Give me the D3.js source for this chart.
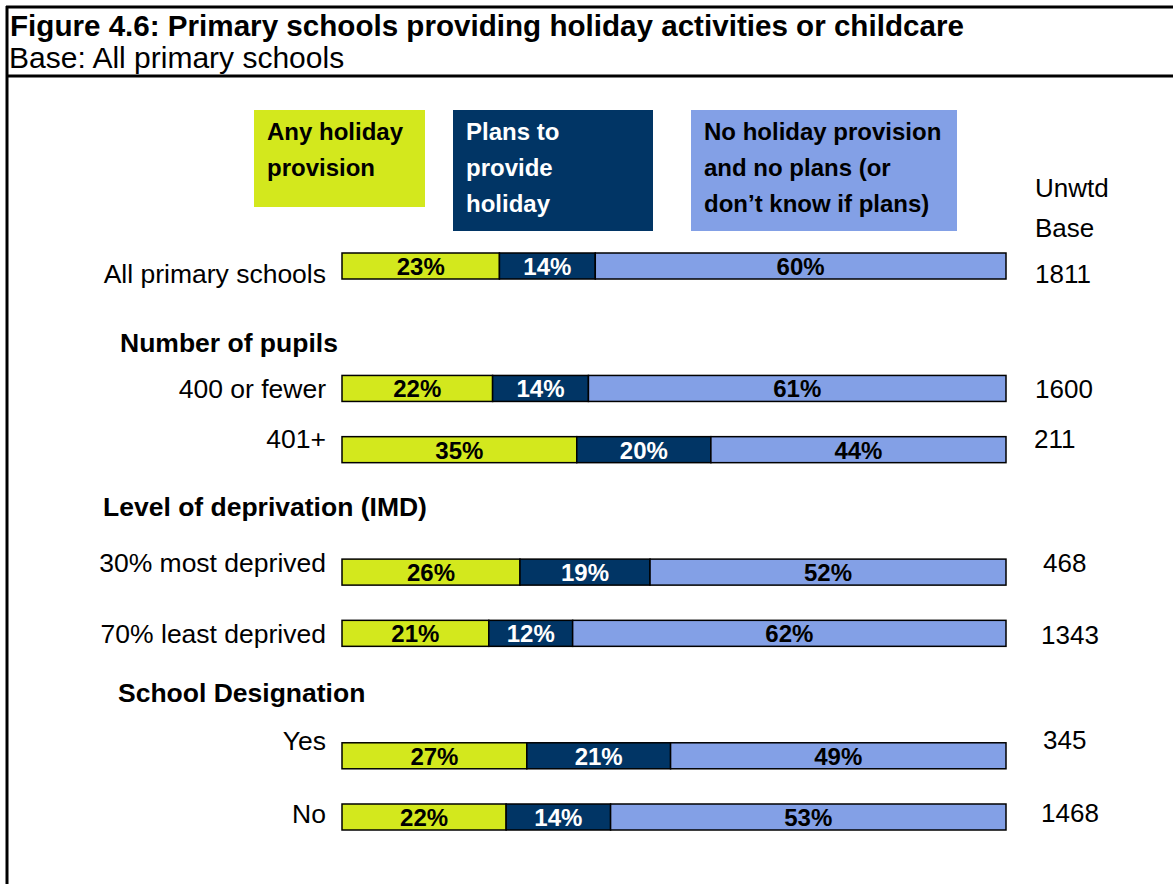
<!DOCTYPE html>
<html>
<head>
  <meta charset="UTF-8">
  <title>Figure 4.6</title>
  <style>
    body { margin: 0; background: #fff; }
    text { font-family: "Liberation Sans", Arial, sans-serif; }
  </style>
</head>
<body>
<script src="https://d3js.org/d3.v7.min.js"></script>
<script>
  // data
  const categories = ["All primary schools", "400 or fewer", "401+", "30% most deprived",
                      "70% least deprived", "Yes", "No"];
  const anyProvision   = [23, 22, 35, 26, 21, 27, 22];
  const plansToProvide = [14, 14, 20, 19, 12, 21, 14];
  const noProvision    = [60, 61, 44, 52, 62, 49, 53];
  const unwtdBase      = [1811, 1600, 211, 468, 1343, 345, 1468];
  const headings = ["Number of pupils", "Level of deprivation (IMD)", "School Designation"];
  const seriesKeys = ["any", "plans", "none"];
  const legendLines = [
    ["Any holiday", "provision"],
    ["Plans to", "provide", "holiday"],
    ["No holiday provision", "and no plans (or", "don\u2019t know if plans)"]
  ];

  const width = 1173, height = 884;
  const colors = { any: "#d3e81d", plans: "#013565", none: "#83a0e6" };
  const textColors = { any: "#000", plans: "#fff", none: "#000" };

  // layout: rows and headings sit on evenly spaced slots
  const rowSlot = [0, 2, 3, 5, 6, 8, 9];
  const headSlot = [1, 4, 7];
  // small nudges so labels sit where the original text boxes were
  const labelDy = [30, 23, 11, 13, 23, 7, 19];
  const baseDy  = [30, 23, 11, 13, 24, 6, 18];
  const baseDx  = [0, 0, -1, 8, 6, 8, 6];
  const headDy  = [38, 18, 20];
  const headX   = [120, 103, 118];

  const svg = d3.select("body").append("svg")
    .attr("width", width).attr("height", height);

  svg.append("rect").attr("width", width).attr("height", height).attr("fill", "#fff");

  // frame
  const frame = svg.append("g").attr("stroke", "#000").attr("stroke-width", 3);
  frame.append("line").attr("x1", 7).attr("y1", 6).attr("x2", 7).attr("y2", height);
  frame.append("line").attr("x1", 6).attr("y1", 7).attr("x2", width).attr("y2", 7);
  frame.append("line").attr("x1", 6).attr("y1", 76).attr("x2", width).attr("y2", 76);

  svg.append("text").attr("x", 10).attr("y", 36)
    .attr("font-size", "29.6px").attr("font-weight", "bold")
    .text("Figure 4.6: Primary schools providing holiday activities or childcare");
  svg.append("text").attr("x", 9).attr("y", 68)
    .attr("font-size", "30px")
    .text("Base: All primary schools");

  // legend boxes
  const legendBoxes = [
    { x: 254, w: 171, h: 97 },
    { x: 453, w: 200, h: 121 },
    { x: 691, w: 266, h: 121 }
  ];
  const legend = svg.append("g").selectAll("g")
    .data(seriesKeys).join("g");
  legend.append("rect")
    .attr("x", (d, i) => legendBoxes[i].x).attr("y", 110)
    .attr("width", (d, i) => legendBoxes[i].w).attr("height", (d, i) => legendBoxes[i].h)
    .attr("fill", d => colors[d]);
  legend.each(function (d, i) {
    d3.select(this).selectAll("text")
      .data(legendLines[i]).join("text")
      .attr("x", legendBoxes[i].x + 13)
      .attr("y", (t, j) => 140 + j * 36)
      .attr("font-size", "24px").attr("font-weight", "bold")
      .attr("fill", textColors[d])
      .text(t => t);
  });

  svg.append("text").attr("x", 1035).attr("y", 197).attr("font-size", "26px").text("Unwtd");
  svg.append("text").attr("x", 1035).attr("y", 237).attr("font-size", "26px").text("Base");

  // scales
  const x = d3.scaleLinear().domain([0, 1]).range([342, 1006]);
  const y = d3.scaleLinear().domain([0, 9]).range([253, 804]);
  const barH = 26;

  const table = categories.map((c, i) => ({
    cat: c, idx: i, any: anyProvision[i], plans: plansToProvide[i], none: noProvision[i]
  }));
  const stacked = d3.stack().keys(seriesKeys).offset(d3.stackOffsetExpand)(table);

  const layers = svg.append("g").selectAll("g")
    .data(stacked).join("g")
    .attr("fill", d => colors[d.key]);

  layers.selectAll("rect")
    .data(d => d).join("rect")
    .attr("x", d => x(d[0]))
    .attr("y", d => y(rowSlot[d.data.idx]))
    .attr("width", d => x(d[1]) - x(d[0]))
    .attr("height", barH)
    .attr("stroke", "#000").attr("stroke-width", 1.5);

  layers.selectAll("text")
    .data(d => d.map(v => ({ v: v, key: d.key }))).join("text")
    .attr("x", d => (x(d.v[0]) + x(d.v[1])) / 2)
    .attr("y", d => y(rowSlot[d.v.data.idx]) + 22)
    .attr("text-anchor", "middle")
    .attr("font-size", "24px").attr("font-weight", "bold")
    .attr("fill", d => textColors[d.key])
    .text(d => d.v.data[d.key] + "%");

  // category labels
  svg.append("g").selectAll("text")
    .data(categories).join("text")
    .attr("x", 326)
    .attr("y", (d, i) => y(rowSlot[i]) + labelDy[i])
    .attr("text-anchor", "end")
    .attr("font-size", "26.5px")
    .text(d => d);

  // group headings
  svg.append("g").selectAll("text")
    .data(headings).join("text")
    .attr("x", (d, i) => headX[i])
    .attr("y", (d, i) => y(headSlot[i]) + headDy[i])
    .attr("font-size", "26.5px").attr("font-weight", "bold")
    .text(d => d);

  // unweighted bases
  svg.append("g").selectAll("text")
    .data(unwtdBase).join("text")
    .attr("x", (d, i) => 1035 + baseDx[i])
    .attr("y", (d, i) => y(rowSlot[i]) + baseDy[i])
    .attr("font-size", "26px")
    .text(d => d);
</script>
</body>
</html>
